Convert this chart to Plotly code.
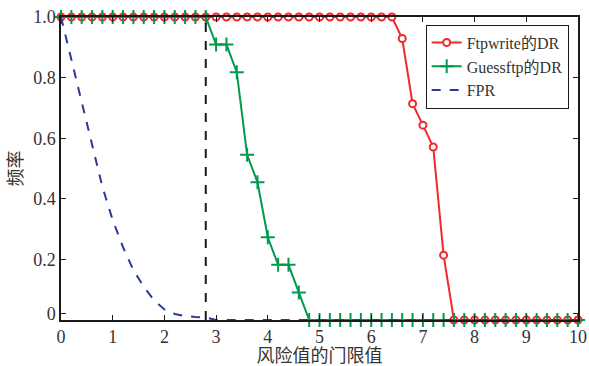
import plotly.graph_objects as go

x_vals = [round(i * 0.2, 1) for i in range(51)]

ftp_write = [1.0] * 33 + [0.929, 0.714, 0.643, 0.571, 0.214] + [0.0] * 13
guess_ftp = [1.0] * 15 + [0.909, 0.909, 0.818, 0.545, 0.455, 0.273, 0.182, 0.182, 0.091] + [0.0] * 27
fpr = [1.0, 0.86, 0.72, 0.58, 0.44, 0.33, 0.24, 0.165, 0.11, 0.065, 0.035,
       0.02, 0.013, 0.01, 0.008] + [0.0] * 36

threshold_x = [2.8, 2.8]
threshold_y = [0.0, 1.0]

y_tickvals = [0.02, 0.2, 0.4, 0.6, 0.8, 1.0]
y_ticktext = ["0", "0.2", "0.4", "0.6", "0.8", "1.0"]
x_tickvals = list(range(11))

serif = "'Liberation Serif', serif"
cjk = "'Liberation Serif', 'Noto Sans CJK SC', serif"

fig = go.Figure()
fig.add_trace(go.Scatter(
    x=x_vals, y=ftp_write, mode="lines+markers", name="Ftpwrite的DR",
    line=dict(color="#ee2a2f", width=2),
    marker=dict(symbol="circle", size=7, color="white",
                line=dict(color="#ee2a2f", width=2)),
    cliponaxis=False))
fig.add_trace(go.Scatter(
    x=x_vals, y=guess_ftp, mode="lines+markers", name="Guessftp的DR",
    line=dict(color="#009a4e", width=2),
    marker=dict(symbol="cross-thin", size=10, color="#009a4e",
                line=dict(color="#009a4e", width=2)),
    cliponaxis=False))
fig.add_trace(go.Scatter(
    x=x_vals, y=fpr, mode="lines", name="FPR",
    line=dict(color="#2a3a95", width=2, dash="dash"),
    cliponaxis=False))
fig.add_trace(go.Scatter(
    x=threshold_x, y=threshold_y, mode="lines", showlegend=False,
    line=dict(color="#1a1a1a", width=2, dash="dash"), hoverinfo="skip"))

axis_common = dict(
    showline=True, linecolor="#1a1a1a", linewidth=1.5, mirror="ticks",
    ticks="inside", ticklen=5, tickwidth=1, tickcolor="#1a1a1a",
    showgrid=False, zeroline=False, automargin=False,
    tickfont=dict(family=serif, size=18, color="#333"),
)

fig.update_layout(
    width=589, height=366,
    margin=dict(l=61, r=11, t=16.5, b=46.3),
    paper_bgcolor="white", plot_bgcolor="white",
    xaxis=dict(range=[0, 10], tickvals=x_tickvals,
               title=dict(text="风险值的门限值", font=dict(family=cjk, size=18, color="#333"),
                          standoff=3),
               **axis_common),
    yaxis=dict(range=[0, 1], tickvals=y_tickvals, ticktext=y_ticktext,
               title=dict(text="频率", font=dict(family=cjk, size=18, color="#333"),
                          standoff=6),
               **axis_common),
    legend=dict(x=0.982, y=0.975, xanchor="right", yanchor="top",
                bgcolor="white", bordercolor="#1a1a1a", borderwidth=1,
                font=dict(family=cjk, size=16, color="#333"),
                itemwidth=30, tracegroupgap=0),
    showlegend=True,
)

fig.write_html("out.html")
